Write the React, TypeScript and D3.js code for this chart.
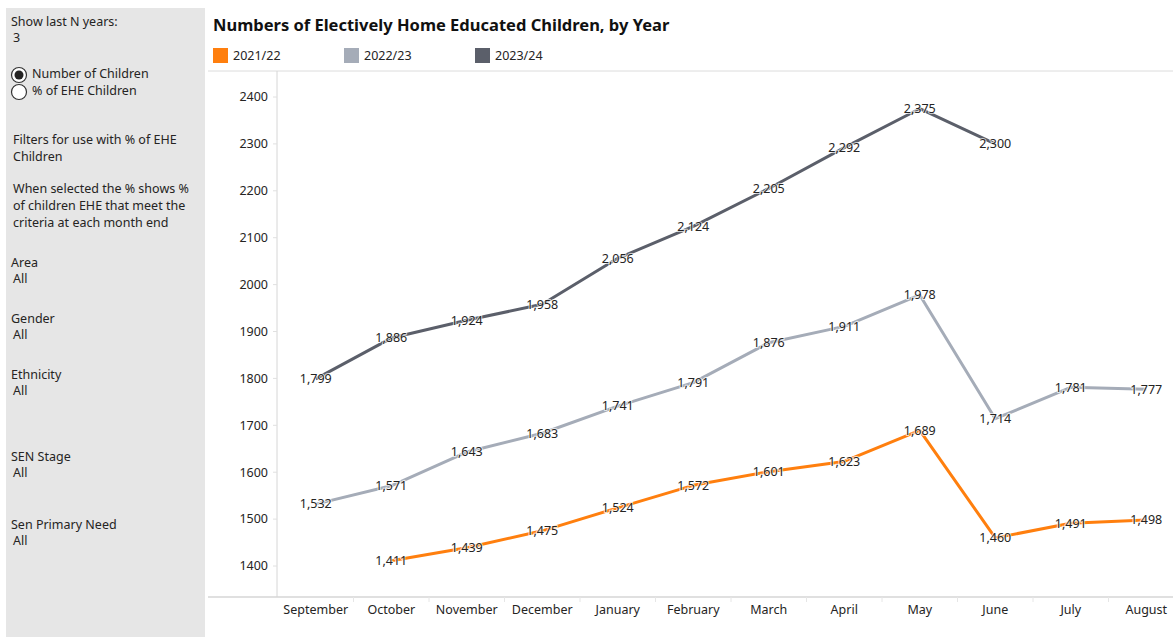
import React from 'react';
import * as d3 from 'd3';

// Data
const months = ['September', 'October', 'November', 'December', 'January', 'February', 'March', 'April', 'May', 'June', 'July', 'August'];
const years = ['2021/22', '2022/23', '2023/24'];
const colors = ['#FF7F0E', '#A5ACB8', '#5B5F6A'];
const values2122: (number | null)[] = [null, 1411, 1439, 1475, 1524, 1572, 1601, 1623, 1689, 1460, 1491, 1498];
const values2223: (number | null)[] = [1532, 1571, 1643, 1683, 1741, 1791, 1876, 1911, 1978, 1714, 1781, 1777];
const values2324: (number | null)[] = [1799, 1886, 1924, 1958, 2056, 2124, 2205, 2292, 2375, 2300, null, null];
const yTicks = [1400, 1500, 1600, 1700, 1800, 1900, 2000, 2100, 2200, 2300, 2400];

const seriesValues = [values2122, values2223, values2324];

const panelItems: { text: string; y: number; x?: number }[] = [
    { text: 'Show last N years:', y: 22 },
    { text: '3', y: 38, x: 13 },
    { text: 'Filters for use with % of EHE', y: 140, x: 13 },
    { text: 'Children', y: 157, x: 13 },
    { text: 'When selected the % shows %', y: 189, x: 13 },
    { text: 'of children EHE that meet the', y: 206, x: 13 },
    { text: 'criteria at each month end', y: 223, x: 13 },
    { text: 'Area', y: 263 },
    { text: 'All', y: 279, x: 13 },
    { text: 'Gender', y: 319 },
    { text: 'All', y: 335, x: 13 },
    { text: 'Ethnicity', y: 375 },
    { text: 'All', y: 391, x: 13 },
    { text: 'SEN Stage', y: 457 },
    { text: 'All', y: 473, x: 13 },
    { text: 'Sen Primary Need', y: 525 },
    { text: 'All', y: 541, x: 13 },
];

const font = '"Noto Sans", "Open Sans", sans-serif';
const textColor = '#252423';

export default function App() {
    const width = 1173;
    const height = 637;
    const plotLeft = 277;
    const plotTop = 71;
    const plotBottom = 597;

    // Escalas
    const x = d3.scaleBand<string>()
        .domain(months)
        .range([278, 1184])
        .padding(0);

    const y = d3.scaleLinear()
        .domain([1400, 2400])
        .range([566, 97]);

    const line = d3.line<number | null>()
        .defined(d => d !== null)
        .x((d, i) => (x(months[i]) as number) + x.bandwidth() / 2)
        .y(d => y(d as number));

    const fmt = d3.format(',');

    return (
        <div style={{ position: 'fixed', left: 0, top: 0 }}>
            <svg width={width} height={height} style={{ display: 'block', fontFamily: font }}>
                <rect x={0} y={0} width={width} height={height} fill="#ffffff" />

                {/* left panel */}
                <rect x={6} y={8} width={199} height={629} fill="#e6e6e6" />
                {panelItems.map((p, i) => (
                    <text key={i} x={p.x ?? 11} y={p.y} dy="0.35em" fontSize={12.5} fill={textColor}>{p.text}</text>
                ))}
                <circle cx={19} cy={75} r={7.5} fill="#ffffff" stroke="#333" strokeWidth={1.2} />
                <circle cx={19} cy={75} r={4.5} fill="#252423" />
                <text x={32} y={74} dy="0.35em" fontSize={12.5} fill={textColor}>Number of Children</text>
                <circle cx={19} cy={92} r={7.5} fill="#ffffff" stroke="#333" strokeWidth={1.2} />
                <text x={32} y={91} dy="0.35em" fontSize={12.5} fill={textColor}>% of EHE Children</text>

                {/* title */}
                <text x={213} y={25} dy="0.35em" fontSize={16.5} fontWeight="bold" fill="#111">
                    Numbers of Electively Home Educated Children, by Year
                </text>

                {/* legend */}
                {years.map((yr, i) => {
                    const lx = [213, 344, 475][i];
                    return (
                        <g key={yr}>
                            <rect x={lx} y={48} width={15} height={15} fill={colors[i]} />
                            <text x={lx + 20} y={56} dy="0.35em" fontSize={12.5} fill={textColor}>{yr}</text>
                        </g>
                    );
                })}

                {/* frame lines */}
                <line x1={208} x2={width} y1={plotTop} y2={plotTop} stroke="#dcdcdc" strokeWidth={1} />
                <line x1={plotLeft} x2={plotLeft} y1={plotTop} y2={plotBottom} stroke="#d6d6d6" strokeWidth={1} />
                <line x1={208} x2={width} y1={plotBottom} y2={plotBottom} stroke="#d6d6d6" strokeWidth={1.5} />

                {/* y axis */}
                {yTicks.map(t => (
                    <g key={t}>
                        <line x1={plotLeft - 4} x2={plotLeft} y1={y(t)} y2={y(t)} stroke="#e0e0e0" />
                        <text x={268} y={y(t)} dy="0.35em" textAnchor="end" fontSize={12.5} fill={textColor}>{t}</text>
                    </g>
                ))}

                {/* x axis */}
                {months.map((m, i) => {
                    const bx = x(m) as number;
                    return (
                        <g key={m}>
                            {i > 0 && <line x1={bx} x2={bx} y1={plotBottom} y2={plotBottom + 5} stroke="#e6e6e6" />}
                            <text x={bx + x.bandwidth() / 2} y={610} dy="0.35em" textAnchor="middle" fontSize={12.5} fill={textColor}>{m}</text>
                        </g>
                    );
                })}

                {/* lines */}
                {seriesValues.map((vals, s) => (
                    <path key={s} d={line(vals) || ''} fill="none" stroke={colors[s]} strokeWidth={3} strokeLinejoin="round" />
                ))}

                {/* labels */}
                {seriesValues.map((vals, s) => (
                    <g key={s}>
                        {vals.map((v, i) => v === null ? null : (
                            <text key={i}
                                x={(x(months[i]) as number) + x.bandwidth() / 2}
                                y={y(v)}
                                dy="0.35em"
                                textAnchor="middle"
                                fontSize={12.5}
                                fill={textColor}
                                stroke="rgba(255,255,255,0.7)"
                                strokeWidth={2}
                                paintOrder="stroke">
                                {fmt(v)}
                            </text>
                        ))}
                    </g>
                ))}
            </svg>
        </div>
    );
}
